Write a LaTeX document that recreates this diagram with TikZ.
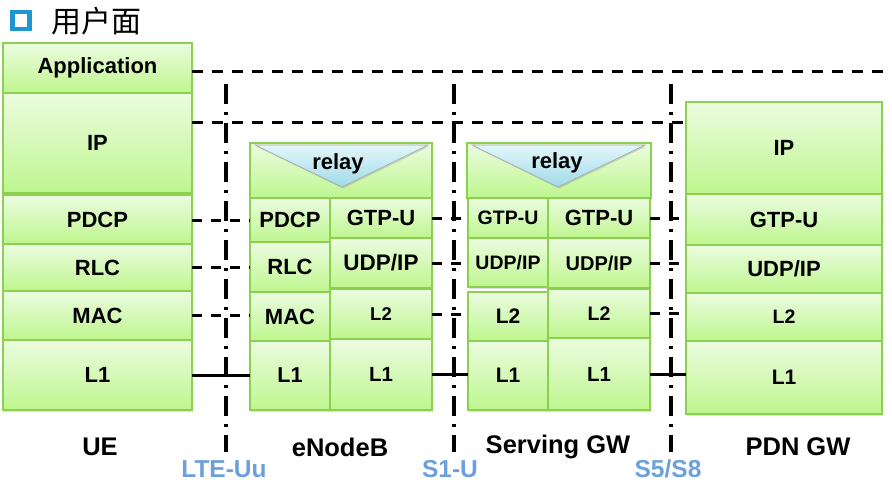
\documentclass[tikz,border=0pt]{standalone}
\usepackage{fontspec}
\setmainfont{Liberation Sans}
\newfontfamily\cjkfont{Noto Sans CJK SC}
\usetikzlibrary{calc,shadows}
\definecolor{boxgreen}{RGB}{140,208,80}
\definecolor{gtop}{RGB}{236,252,224}
\definecolor{gbot}{RGB}{190,246,142}
\definecolor{tritop}{RGB}{226,246,250}
\definecolor{tribot}{RGB}{160,218,232}
\definecolor{ifblue}{RGB}{108,160,220}
\definecolor{titleblue}{RGB}{30,150,210}
\begin{document}
\begin{tikzpicture}[x=1pt,y=-1pt,
  layer/.style={draw=boxgreen, line width=1.2pt, top color=gtop, bottom color=gbot,
    inner sep=0pt, outer sep=0pt, anchor=north west,
    drop shadow={opacity=0.25, shadow xshift=1pt, shadow yshift=-1.5pt},
    font=\bfseries\fontsize{22}{24}\selectfont, text=black},
  fs/.style={font=\bfseries\fontsize{#1}{#1}\selectfont},
  peer/.style={line width=3pt, dash pattern=on 10pt off 9pt},
  peerlong/.style={line width=3pt, dash pattern=on 11pt off 9pt},
  phys/.style={line width=3pt},
  iface/.style={line width=3.5pt, dash pattern=on 20pt off 8pt on 3pt off 8pt},
  entity/.style={font=\bfseries\fontsize{25.5}{26}\selectfont, text=black},
  ifname/.style={font=\bfseries\fontsize{24.5}{25}\selectfont, text=ifblue},
  relaytri/.style={top color=tritop, bottom color=tribot, draw=gray!70, line width=0.6pt,
    drop shadow={opacity=0.3, shadow xshift=1pt, shadow yshift=-1.5pt}}
]
\useasboundingbox (0,0) rectangle (892,498);

% title
\node[draw=titleblue, line width=4.5pt, minimum size=17pt, inner sep=0pt] (bullet) at (21,20.5) {};
\node[anchor=west, inner sep=0pt, font=\cjkfont\fontsize{30}{30}\selectfont] (title) at (51,21) {用户面};

% UE
\node[layer, minimum width=189, minimum height=50] (ueApp) at (3,43) {Application};
\node[layer, minimum width=189, minimum height=100] (ueIP) at (3,93) {IP};
\node[layer, minimum width=189, minimum height=49] (uePDCP) at (3,195) {PDCP};
\node[layer, minimum width=189, minimum height=47] (ueRLC) at (3,244) {RLC};
\node[layer, minimum width=189, minimum height=49] (ueMAC) at (3,291) {MAC};
\node[layer, minimum width=189, minimum height=70] (ueL1) at (3,340) {L1};

% eNodeB
\node[layer, minimum width=182, minimum height=55] (enbRelay) at (250,143) {};
\path[relaytri] ($(enbRelay.north west)+(5,2)$) -- ($(enbRelay.north east)+(-4,2)$) -- ($(enbRelay.north west)+(92,44)$) -- cycle;
\node[fs=22, inner sep=0pt] (enbRelayTxt) at (338,164) {relay};
\node[layer, minimum width=80, minimum height=44] (enbPDCP) at (250,198) {PDCP};
\node[layer, minimum width=80, minimum height=50] (enbRLC) at (250,242) {RLC};
\node[layer, minimum width=80, minimum height=49] (enbMAC) at (250,292) {MAC};
\node[layer, minimum width=80, minimum height=69, fs=21.5] (enbL1a) at (250,341) {L1};
\node[layer, minimum width=102, minimum height=40] (enbGTP) at (330,198) {GTP-U};
\node[layer, minimum width=102, minimum height=50, fs=22.5] (enbUDP) at (330,238) {UDP/IP};
\node[layer, minimum width=102, minimum height=50, fs=18.5] (enbL2) at (330,289) {L2};
\node[layer, minimum width=102, minimum height=71, fs=20.5] (enbL1b) at (330,339) {L1};

% Serving GW
\node[layer, minimum width=184, minimum height=55] (sgwRelay) at (467,143) {};
\path[relaytri] ($(sgwRelay.north west)+(5,2)$) -- ($(sgwRelay.north east)+(-6,2)$) -- ($(sgwRelay.north west)+(91,44)$) -- cycle;
\node[fs=22, inner sep=0pt] (sgwRelayTxt) at (557,163) {relay};
\node[layer, minimum width=80, minimum height=40, fs=19.5] (sgwGTPa) at (468,198) {GTP-U};
\node[layer, minimum width=80, minimum height=49, fs=19.5] (sgwUDPa) at (468,238) {UDP/IP};
\node[layer, minimum width=80, minimum height=49, fs=21] (sgwL2a) at (468,292) {L2};
\node[layer, minimum width=80, minimum height=69, fs=21] (sgwL1a) at (468,341) {L1};
\node[layer, minimum width=102, minimum height=40] (sgwGTPb) at (548,198) {GTP-U};
\node[layer, minimum width=102, minimum height=50, fs=20] (sgwUDPb) at (548,238) {UDP/IP};
\node[layer, minimum width=102, minimum height=49, fs=19.5] (sgwL2b) at (548,289) {L2};
\node[layer, minimum width=102, minimum height=72, fs=20.5] (sgwL1b) at (548,338) {L1};

% PDN GW
\node[layer, minimum width=196, minimum height=92] (pgwIP) at (686,102) {IP};
\node[layer, minimum width=196, minimum height=51] (pgwGTP) at (686,194) {GTP-U};
\node[layer, minimum width=196, minimum height=48] (pgwUDP) at (686,245) {UDP/IP};
\node[layer, minimum width=196, minimum height=48, fs=19.5] (pgwL2) at (686,293) {L2};
\node[layer, minimum width=196, minimum height=73, fs=21] (pgwL1) at (686,341) {L1};

% end-to-end peer lines
\coordinate (appEnd) at (892,71);
\coordinate (ipLine) at (0,122);
\draw[peerlong] (ueApp.east |- appEnd) -- (appEnd);
\draw[peerlong] (ueIP.east |- ipLine) -- (pgwIP.west |- ipLine);

% UE - eNodeB
\draw[peer] (uePDCP.east |- enbPDCP.west) -- (enbPDCP.west);
\draw[peer] (ueRLC.east) -- (ueRLC.east -| enbRLC.west);
\draw[peer] (ueMAC.east) -- (ueMAC.east -| enbMAC.west);
\draw[phys] (ueL1.east) -- (ueL1.east -| enbL1a.west);

% eNodeB - SGW
\draw[peer] (enbGTP.east) -- (enbGTP.east -| sgwGTPa.west);
\draw[peer] (enbUDP.east) -- (enbUDP.east -| sgwUDPa.west);
\draw[peer] (enbL2.east) -- (enbL2.east -| sgwL2a.west);
\draw[phys] (enbL1b.east) -- (enbL1b.east -| sgwL1a.west);

% SGW - PGW
\draw[peer] (sgwGTPb.east) -- (sgwGTPb.east -| pgwGTP.west);
\draw[peer] (sgwUDPb.east) -- (sgwUDPb.east -| pgwUDP.west);
\draw[peer] (sgwL2b.east) -- (sgwL2b.east -| pgwL2.west);
\draw[phys] (sgwL1b.east) -- (sgwL1b.east -| pgwL1.west);

% interface lines
\coordinate (uuTop) at (226,84);   \coordinate (uuBot) at (226,452);
\coordinate (s1Top) at (454,84);   \coordinate (s1Bot) at (454,452);
\coordinate (s5Top) at (671,84);   \coordinate (s5Bot) at (671,452);
\draw[iface] (uuTop) -- (uuBot);
\draw[iface] (s1Top) -- (s1Bot);
\draw[iface] (s5Top) -- (s5Bot);

% labels
\node[entity] (ueName) at (100,447) {UE};
\node[entity] (enbName) at (340,447) {eNodeB};
\node[entity] (sgwName) at (558,447) {Serving GW};
\node[entity] (pgwName) at (798,447) {PDN GW};
\node[ifname] (uuName) at (224,469) {LTE-Uu};
\node[ifname] (s1Name) at (450,469) {S1-U};
\node[ifname] (s5Name) at (668,469) {S5/S8};
\end{tikzpicture}
\end{document}
